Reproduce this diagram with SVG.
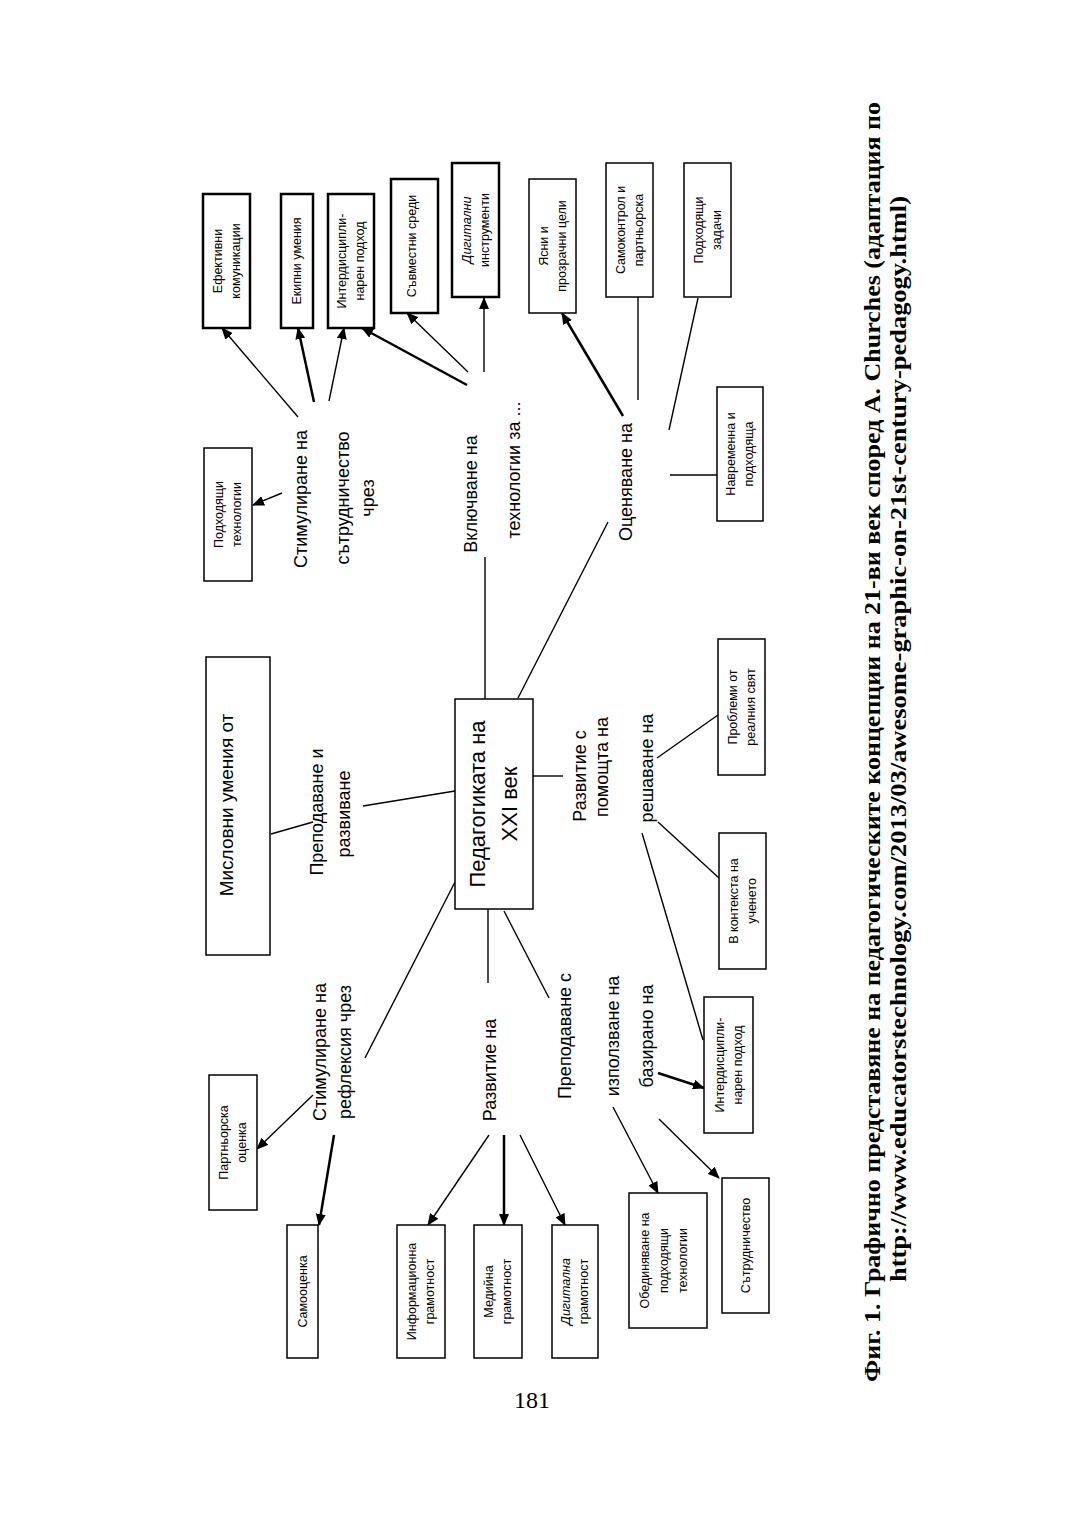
<svg xmlns="http://www.w3.org/2000/svg" width="1080" height="1530" viewBox="0 0 1080 1530">
<defs>
<style>
.box{fill:#fff;stroke:#000;stroke-width:1.5}
.bx{fill:#fff;stroke:#000;stroke-width:2.5}
.t{font-family:"Liberation Sans",Arial,sans-serif;font-size:12.5px;fill:#000;text-anchor:middle}
.it{font-style:italic}
.lb{font-family:"Liberation Sans",Arial,sans-serif;font-size:18px;fill:#000;text-anchor:middle}
.ln{stroke:#000;stroke-width:1.4;fill:none}
.th{stroke:#000;stroke-width:2.5;fill:none}
.cap{font-family:"Liberation Serif","Times New Roman",serif;font-weight:bold;font-size:23px;fill:#000;text-anchor:middle}
</style>
<marker id="ah" markerUnits="userSpaceOnUse" markerWidth="12" markerHeight="10" refX="11" refY="5" orient="auto">
<path d="M0,0 L12,5 L0,10 z" fill="#000"/>
</marker>
</defs>
<rect width="1080" height="1530" fill="#fff"/>

<g id="connectors">
<line class="ln" x1="485" y1="557" x2="485" y2="699"/>
<line class="ln" x1="518" y1="698" x2="608" y2="522"/>
<line class="ln" x1="533" y1="776" x2="563" y2="776"/>
<line class="ln" x1="455" y1="791" x2="363" y2="806"/>
<line class="ln" x1="271" y1="834" x2="313" y2="822"/>
<line class="ln" x1="455" y1="882" x2="365" y2="1058"/>
<line class="ln" x1="488" y1="909" x2="488" y2="983"/>
<line class="ln" x1="504" y1="911" x2="549" y2="998"/>
<line class="ln" x1="638" y1="297" x2="638" y2="400"/>
<line class="ln" x1="698" y1="298" x2="669" y2="430"/>
<line class="ln" x1="670" y1="475" x2="717" y2="475"/>
<line class="ln" x1="657" y1="758" x2="718" y2="715"/>
<line class="ln" x1="658" y1="822" x2="719" y2="878"/>
<line class="ln" x1="642" y1="833" x2="703" y2="1040"/>
<line class="ln" stroke-width="2" x1="282" y1="493" x2="253" y2="505" marker-end="url(#ah)"/>
<line class="ln" x1="298" y1="417" x2="222" y2="328" marker-end="url(#ah)"/>
<line class="th" x1="314" y1="402" x2="298" y2="328" marker-end="url(#ah)"/>
<line class="ln" x1="329" y1="401" x2="344" y2="328" marker-end="url(#ah)"/>
<line class="th" x1="467" y1="385" x2="362" y2="328" marker-end="url(#ah)"/>
<line class="ln" stroke-width="2" x1="468" y1="372" x2="407" y2="313" marker-end="url(#ah)"/>
<line class="ln" x1="484" y1="372" x2="484" y2="298" marker-end="url(#ah)"/>
<line class="th" x1="623" y1="416" x2="562" y2="313" marker-end="url(#ah)"/>
<line class="ln" stroke-width="2" x1="313" y1="1095" x2="257" y2="1149" marker-end="url(#ah)"/>
<line class="th" x1="334" y1="1135" x2="319" y2="1225" marker-end="url(#ah)"/>
<line class="ln" x1="489" y1="1135" x2="428" y2="1225" marker-end="url(#ah)"/>
<line class="th" x1="504" y1="1135" x2="504" y2="1225" marker-end="url(#ah)"/>
<line class="ln" x1="520" y1="1135" x2="565" y2="1225" marker-end="url(#ah)"/>
<line class="ln" x1="613" y1="1107" x2="658" y2="1193" marker-end="url(#ah)"/>
<line class="ln" x1="659" y1="1119" x2="719" y2="1178" marker-end="url(#ah)"/>
<line class="th" x1="658" y1="1073" x2="704" y2="1088" marker-end="url(#ah)"/>
</g>

<g id="n-center">
<rect class="box" x="455" y="699" width="78" height="210"/>
<text class="lb" style="font-size:22px" transform="translate(485,804) rotate(-90)">Педагогиката на</text>
<text class="lb" style="font-size:22px" transform="translate(517,804) rotate(-90)">XXI век</text>
</g>

<g id="n-mislovni">
<rect class="box" x="206" y="657" width="64" height="298"/>
<text class="lb" style="font-size:19px" transform="translate(233,805) rotate(-90)">Мисловни умения от</text>
</g>

<g id="l-prepodavane-razvivane">
<text class="lb" transform="translate(323,812) rotate(-90)">Преподаване и</text>
<text class="lb" transform="translate(350,814) rotate(-90)">развиване</text>
</g>

<g id="l-stim-satr">
<text class="lb" transform="translate(307,499) rotate(-90)">Стимулиране на</text>
<text class="lb" transform="translate(349,498) rotate(-90)">сътрудничество</text>
<text class="lb" transform="translate(374,498) rotate(-90)">чрез</text>
</g>

<g id="l-vkluchvane">
<text class="lb" transform="translate(477,494) rotate(-90)">Включване на</text>
<text class="lb" transform="translate(520,470) rotate(-90)">технологии за ...</text>
</g>

<g id="l-ocenyavane">
<text class="lb" transform="translate(632,482) rotate(-90)">Оценяване на</text>
</g>

<g id="l-razvitie-pomoshta">
<text class="lb" transform="translate(586,776) rotate(-90)">Развитие с</text>
<text class="lb" transform="translate(608,767) rotate(-90)">помощта на</text>
<text class="lb" transform="translate(653,768) rotate(-90)">решаване на</text>
</g>

<g id="l-stim-refl">
<text class="lb" transform="translate(326,1052) rotate(-90)">Стимулиране на</text>
<text class="lb" transform="translate(351,1052) rotate(-90)">рефлексия чрез</text>
</g>

<g id="l-razvitie-na">
<text class="lb" transform="translate(496,1070) rotate(-90)">Развитие на</text>
</g>

<g id="l-prepodavane-s">
<text class="lb" transform="translate(571,1036) rotate(-90)">Преподаване с</text>
<text class="lb" transform="translate(619,1036) rotate(-90)">използване на</text>
<text class="lb" transform="translate(653,1036) rotate(-90)">базирано на</text>
</g>

<g id="n-efektivni">
<rect class="bx" x="203" y="194" width="47" height="134"/>
<g transform="translate(226.5,261) rotate(-90)"><text class="t" y="-5">Ефективни</text><text class="t" y="13">комуникации</text></g>
</g>
<g id="n-ekipni">
<rect class="bx" x="281" y="194" width="32" height="134"/>
<g transform="translate(297,261) rotate(-90)"><text class="t" y="4">Екипни умения</text></g>
</g>
<g id="n-interdisc-top">
<rect class="bx" x="328" y="194" width="46" height="134"/>
<g transform="translate(351,261) rotate(-90)"><text class="t" y="-5">Интердисципли-</text><text class="t" y="13">нарен подход</text></g>
</g>
<g id="n-savmestni">
<rect class="bx" x="391" y="179" width="47" height="134"/>
<g transform="translate(412,246) rotate(-90)"><text class="t" y="4">Съвместни среди</text></g>
</g>
<g id="n-digitalni">
<rect class="bx" x="452" y="163" width="47" height="134"/>
<g transform="translate(475.5,230) rotate(-90)"><text class="t it" y="-5">Дигитални</text><text class="t" y="13">инструменти</text></g>
</g>
<g id="n-yasni">
<rect class="box" stroke-width="2" x="529" y="179" width="47" height="134"/>
<g transform="translate(552.5,246) rotate(-90)"><text class="t" y="-5">Ясни и</text><text class="t" y="13">прозрачни цели</text></g>
</g>
<g id="n-samokontrol">
<rect class="box" stroke-width="2" x="606" y="163" width="47" height="134"/>
<g transform="translate(629.5,230) rotate(-90)"><text class="t" y="-5">Самоконтрол и</text><text class="t" y="13">партньорска</text></g>
</g>
<g id="n-podhodyashti-zadachi">
<rect class="box" x="684" y="163" width="47" height="134"/>
<g transform="translate(707.5,230) rotate(-90)"><text class="t" y="-5">Подходящи</text><text class="t" y="13">задачи</text></g>
</g>
<g id="n-navremenna">
<rect class="box" x="717" y="387" width="46" height="134"/>
<g transform="translate(740,454) rotate(-90)"><text class="t" y="-5">Навременна и</text><text class="t" y="13">подходяща</text></g>
</g>
<g id="n-podhodyashti-tehn">
<rect class="box" x="204" y="448" width="48" height="133"/>
<g transform="translate(228,514.5) rotate(-90)"><text class="t" y="-5">Подходящи</text><text class="t" y="13">технологии</text></g>
</g>
<g id="n-problemi">
<rect class="box" x="718" y="639" width="47" height="136"/>
<g transform="translate(741.5,707) rotate(-90)"><text class="t" y="-5">Проблеми от</text><text class="t" y="13">реалния свят</text></g>
</g>
<g id="n-kontekst">
<rect class="box" x="719" y="833" width="47" height="136"/>
<g transform="translate(742.5,901) rotate(-90)"><text class="t" y="-5">В контекста на</text><text class="t" y="13">ученето</text></g>
</g>
<g id="n-interdisc-bottom">
<rect class="box" x="704" y="997" width="49" height="136"/>
<g transform="translate(728.5,1065) rotate(-90)"><text class="t" y="-5">Интердисципли-</text><text class="t" y="13">нарен подход</text></g>
</g>
<g id="n-partnyorska">
<rect class="box" x="209" y="1075" width="48" height="135"/>
<g transform="translate(233,1142.5) rotate(-90)"><text class="t" y="-5">Партньорска</text><text class="t" y="13">оценка</text></g>
</g>
<g id="n-samoocenka">
<rect class="box" x="287" y="1225" width="31" height="133"/>
<g transform="translate(302.5,1291.5) rotate(-90)"><text class="t" y="4">Самооценка</text></g>
</g>
<g id="n-informacionna">
<rect class="box" x="397" y="1225" width="48" height="133"/>
<g transform="translate(421,1291.5) rotate(-90)"><text class="t" y="-5">Информационна</text><text class="t" y="13">грамотност</text></g>
</g>
<g id="n-mediyna">
<rect class="box" x="474" y="1225" width="48" height="133"/>
<g transform="translate(498,1291.5) rotate(-90)"><text class="t" y="-5">Медийна</text><text class="t" y="13">грамотност</text></g>
</g>
<g id="n-digitalna">
<rect class="box" x="552" y="1225" width="46" height="133"/>
<g transform="translate(575,1291.5) rotate(-90)"><text class="t it" y="-5">Дигитална</text><text class="t" y="13">грамотност</text></g>
</g>
<g id="n-obedinyavane">
<rect class="box" x="629" y="1193" width="78" height="135"/>
<g transform="translate(668,1260.5) rotate(-90)"><text class="t" y="-19">Обединяване на</text><text class="t" y="0">подходящи</text><text class="t" y="19">технологии</text></g>
</g>
<g id="n-satrudnichestvo">
<rect class="box" x="722" y="1178" width="47" height="135"/>
<g transform="translate(745.5,1245.5) rotate(-90)"><text class="t" y="4">Сътрудничество</text></g>
</g>

<g id="caption">
<text class="cap" transform="translate(880,742) rotate(-90)" textLength="1280" lengthAdjust="spacingAndGlyphs">Фиг. 1. Графично представяне на педагогическите концепции на 21-ви век според A. Churches (адаптация по</text>
<text class="cap" transform="translate(906,739) rotate(-90)" textLength="1086" lengthAdjust="spacingAndGlyphs">http://www.educatorstechnology.com/2013/03/awesome-graphic-on-21st-century-pedagogy.html)</text>
</g>

<text x="532" y="1408" font-family="Liberation Serif, Times New Roman, serif" font-size="24" text-anchor="middle" fill="#000">181</text>
</svg>
